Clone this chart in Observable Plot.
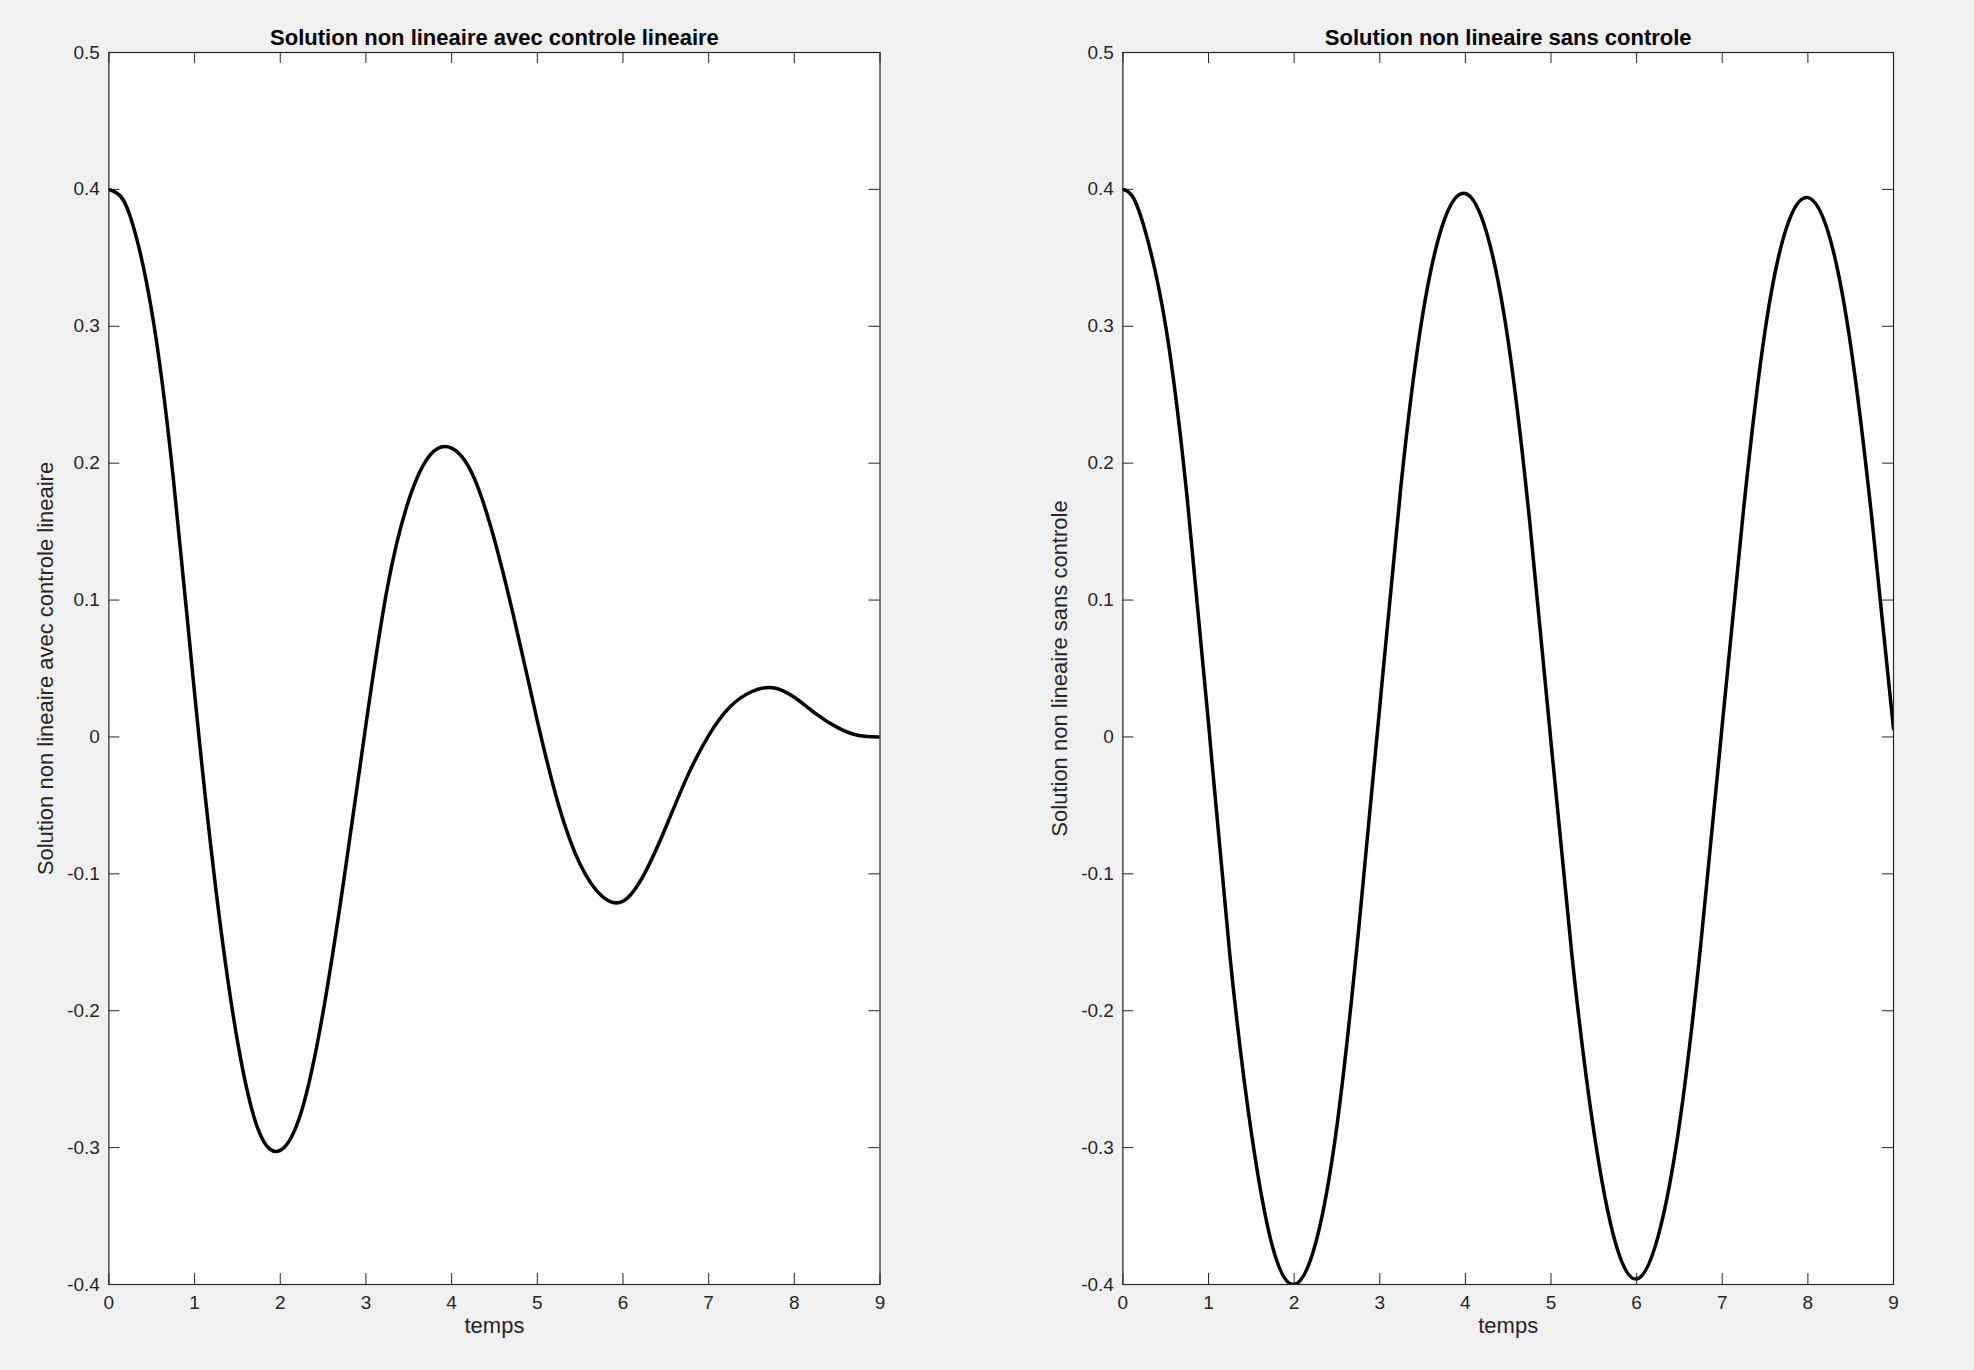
<!DOCTYPE html>
<html>
<head>
<meta charset="utf-8">
<script src="https://cdn.jsdelivr.net/npm/d3@7"></script>
<script src="https://cdn.jsdelivr.net/npm/@observablehq/plot@0.6"></script>
<style>
  html, body { margin: 0; padding: 0; background: #f0f0f0; }
  #fig { position: relative; width: 1974px; height: 1370px; background: #f0f0f0; overflow: hidden; }
  #fig svg { position: absolute; top: 0; }
</style>
</head>
<body>
<div id="fig"></div>
<script>
// ---- data ----
const titleLeft = "Solution non lineaire avec controle lineaire";
const titleRight = "Solution non lineaire sans controle";
const yLabelLeft = "Solution non lineaire avec controle lineaire";
const yLabelRight = "Solution non lineaire sans controle";
const xLabel = "temps";

const xTicks = [0, 1, 2, 3, 4, 5, 6, 7, 8, 9];
const yTicks = [-0.4, -0.3, -0.2, -0.1, 0, 0.1, 0.2, 0.3, 0.4, 0.5];
const yTickLabels = ["-0.4", "-0.3", "-0.2", "-0.1", "0", "0.1", "0.2", "0.3", "0.4", "0.5"];

const tLeft = [0, 0.1, 0.25, 0.5, 0.75, 1, 1.25, 1.5, 1.75, 2, 2.25, 2.5, 2.75, 3, 3.25, 3.5, 3.75, 4,
  4.25, 4.5, 4.75, 5, 5.25, 5.5, 5.75, 6, 6.25, 6.5, 6.75, 7, 7.25, 7.5, 7.75, 8, 8.25, 8.5, 8.75, 9];
const yLeft = [0.400, 0.397, 0.380, 0.311, 0.190, 0.032, -0.112, -0.222, -0.288, -0.302, -0.273, -0.201, -0.101, 0.009,
  0.109, 0.173, 0.206, 0.211, 0.191, 0.144, 0.081, 0.012, -0.050, -0.093, -0.116, -0.120, -0.100, -0.066, -0.029,
  0.001, 0.022, 0.033, 0.036, 0.029, 0.017, 0.007, 0.001, 0.000];

const tRight = [0, 0.1, 0.25, 0.5, 0.75, 1, 1.25, 1.5, 1.75, 2, 2.25, 2.5, 2.75, 3, 3.25, 3.5, 3.75, 4,
  4.25, 4.5, 4.75, 5, 5.25, 5.5, 5.75, 6, 6.25, 6.5, 6.75, 7, 7.25, 7.5, 7.75, 8, 8.25, 8.5, 8.75, 9];
const yRight = [0.400, 0.396, 0.372, 0.300, 0.175, 0.010, -0.160, -0.289, -0.373, -0.400, -0.370, -0.284, -0.143, 0.022,
  0.185, 0.308, 0.377, 0.397, 0.368, 0.289, 0.158, -0.004, -0.163, -0.288, -0.369, -0.396, -0.365, -0.283, -0.151,
  0.009, 0.167, 0.297, 0.372, 0.394, 0.366, 0.286, 0.158, 0.006];

// ---- drawing ----
const FONT = "'Liberation Sans', Helvetica, Arial, sans-serif";
const INK = "#262626";
const W = 987, H = 1370, MT = 52, MB = 86, TICK = 11;

function panel(ts, ys, title, ylabel, ml, mr) {
  const data = ts.map((t, i) => ({t, v: ys[i]}));
  const pw = W - ml - mr, ph = H - MT - MB;
  const fmt = d => yTickLabels[yTicks.indexOf(d)];
  return Plot.plot({
    width: W, height: H,
    marginLeft: ml, marginRight: mr, marginTop: MT, marginBottom: MB,
    x: {domain: [0, 9]},
    y: {domain: [-0.4, 0.5]},
    style: {background: "transparent", fontFamily: FONT, fontSize: "19px", color: INK, overflow: "visible"},
    marks: [
      Plot.frame({fill: "white", stroke: null}),
      Plot.tickY(yTicks, {y: d => d, insetRight: pw - TICK, stroke: INK, strokeWidth: 1}),
      Plot.tickY(yTicks, {y: d => d, insetLeft: pw - TICK, stroke: INK, strokeWidth: 1}),
      Plot.tickX(xTicks, {x: d => d, insetTop: ph - TICK, stroke: INK, strokeWidth: 1}),
      Plot.tickX(xTicks, {x: d => d, insetBottom: ph - TICK, stroke: INK, strokeWidth: 1}),
      Plot.line(data, {x: "t", y: "v", stroke: "black", strokeWidth: 3.5, curve: "natural", clip: true}),
      Plot.frame({stroke: INK, strokeWidth: 1.2}),
      Plot.axisY({ticks: yTicks, tickSize: 0, tickPadding: 9, tickFormat: fmt, label: null, fontSize: 19, fill: INK}),
      Plot.axisX({ticks: xTicks, tickSize: 0, tickPadding: 11, tickFormat: d => String(d), label: null, fontSize: 19, fill: INK}),
      Plot.text([title], {text: d => d, frameAnchor: "top", dy: -15, lineAnchor: "middle", textAnchor: "middle", fontWeight: "bold", fontSize: 22, fill: "#000"}),
      Plot.text([ylabel], {text: d => d, frameAnchor: "left", rotate: -90, dx: -63, lineAnchor: "middle", textAnchor: "middle", fontSize: 22, fill: INK}),
      Plot.text([xLabel], {text: d => d, frameAnchor: "bottom", dy: 41, lineAnchor: "middle", textAnchor: "middle", fontSize: 22, fill: INK})
    ]
  });
}

const fig = document.getElementById("fig");
const left = panel(tLeft, yLeft, titleLeft, yLabelLeft, 108.4, W - 879.5);
left.style.left = "0px";
fig.appendChild(left);
const right = panel(tRight, yRight, titleRight, yLabelRight, 1122.4 - W, 1974 - 1893);
right.style.left = W + "px";
fig.appendChild(right);
</script>
</body>
</html>
